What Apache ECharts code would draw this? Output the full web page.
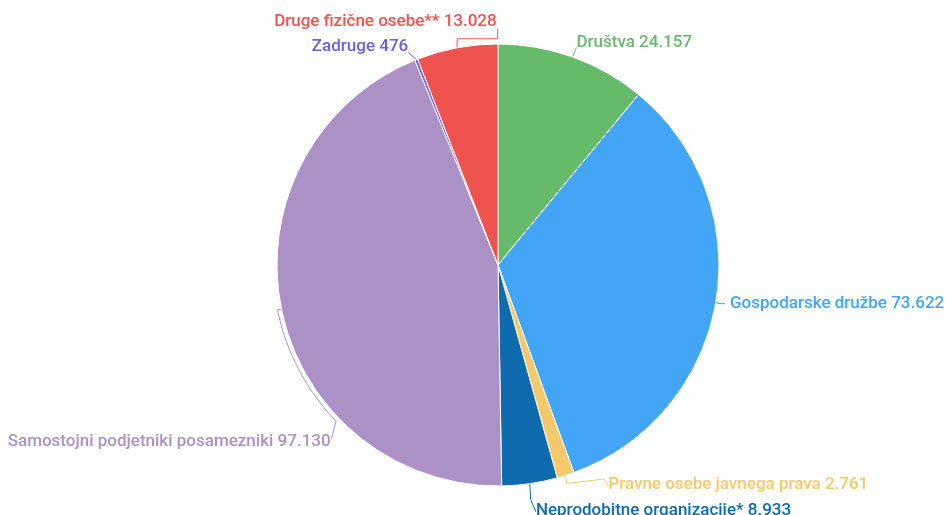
<!DOCTYPE html>
<html><head><meta charset="utf-8">
<script src="https://cdn.jsdelivr.net/npm/echarts@6/dist/echarts.min.js"></script>
<style>html,body{margin:0;padding:0;background:#fff}#c{width:946px;height:515px}</style>
</head><body><div id="c"></div>
<script>
const categories = ['Društva','Gospodarske družbe','Pravne osebe javnega prava','Neprodobitne organizacije*','Samostojni podjetniki posamezniki','Zadruge','Druge fizične osebe**'];
const values = [24157, 73622, 2761, 8933, 97130, 476, 13028];
const colors = ['#66bb6a','#42a5f5','#f3c96b','#0f6aae','#ab91c6','#6c5ce7','#ef5350'];

// layout settings
const CX = 498, CY = 265, R = 221;
const labelShift = [[-10,-7],[0,0],[8,2],[-6,9],[63,131],[18,-12],[52,-18]];

function fmt(v){ return String(v).replace(/\B(?=(\d{3})+(?!\d))/g,'.'); }

function linePoints(i, p0, r, orig){
  const R2 = r.x + r.width, B = r.y + r.height;
  switch(i){
    case 0: return [p0, [r.x, r.y + r.height*0.8]];
    case 1: return orig;
    case 2: return [p0, [p0[0]+1, p0[1]+8], [r.x-4, r.y + r.height*0.15], [r.x, r.y + r.height*0.55]];
    case 3: return [p0, [p0[0]+1, p0[1]+16], [r.x, r.y + r.height*0.55]];
    case 4: {
      const pts = [p0];
      const rr = R + 4;
      let a = Math.atan2(p0[1]-CY, p0[0]-CX);
      const aEnd = Math.asin((r.y - 12 - CY)/rr); // angle where arc meets label level
      const aEndL = Math.PI - aEnd;
      const n = 24;
      for(let k=0;k<=n;k++){
        const t = a + (aEndL - a)*k/n;
        pts.push([CX + rr*Math.cos(t), CY + rr*Math.sin(t)]);
      }
      pts.push([R2+1, r.y + r.height*0.3]);
      return pts;
    }
    case 5: return [p0, [R2, r.y + r.height*0.8]];
    case 6: return [p0, [p0[0], p0[1]-9], [R2+1, p0[1]-9], [R2+1, B-2]];
  }
  return orig;
}

const chart = echarts.init(document.getElementById('c'), null, {renderer:'canvas'});
chart.setOption({
  animation:false,
  color: colors,
  series:[{
    type:'pie',
    center:[CX,CY],
    radius:[0,R],
    startAngle:90,
    clockwise:true,
    avoidLabelOverlap:true,
    itemStyle:{borderColor:'#fff',borderWidth:1},
    label:{
      show:true,
      overflow:'none',
      formatter:p=>p.name+' '+fmt(p.value),
      fontFamily:'Roboto',fontSize:17,fontWeight:500,
      color:'inherit'
    },
    labelLine:{show:true,length:8,length2:6,lineStyle:{width:1}},
    labelLayout:function(p){
      const s = labelShift[p.dataIndex] || [0,0];
      const lr = p.labelRect;
      const r = {x: lr.x + s[0], y: lr.y + s[1], width: lr.width, height: lr.height};
      const orig = p.labelLinePoints;
      const out = {dx:s[0], dy:s[1]};
      if (orig && orig.length) {
        out.labelLinePoints = linePoints(p.dataIndex, orig[0], r, orig);
      }
      return out;
    },
    data: categories.map((n,i)=>({name:n,value:values[i]}))
  }]
});
</script></body></html>
